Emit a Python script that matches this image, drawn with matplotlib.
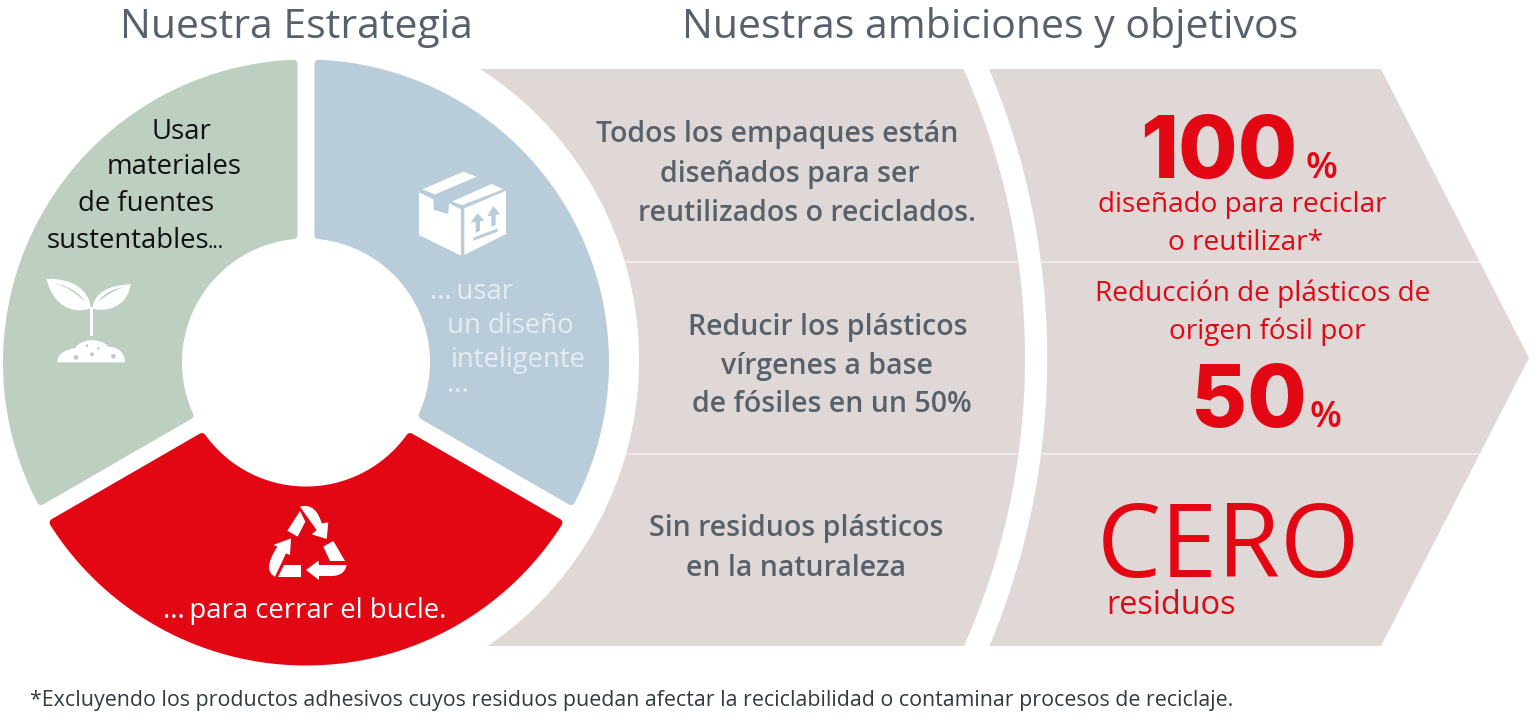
import numpy as np
import matplotlib
matplotlib.use('Agg')
import matplotlib.pyplot as plt
from matplotlib.patches import Polygon, Circle, PathPatch
from matplotlib.path import Path

plt.rcParams['font.family'] = ['Open Sans', 'DejaVu Sans']

RED = '#e30613'
GREY = '#57616b'
SAND = '#dfd8d7'
GREEN = '#bccfc0'
BLUE = '#b9ccda'
PALE = '#e6edf2'

titles = ['Nuestra Estrategia', 'Nuestras ambiciones y objetivos']
title_x = [296, 990]

green_lines = ['Usar', 'materiales', 'de fuentes', 'sustentables', '...']
green_x = [181, 174, 146, 128, 216]
green_y = [139, 174, 211, 248, 248]
green_size = [27.5, 27.5, 27.5, 27.5, 20]

blue_lines = ['...\u2009usar', 'un diseño', 'inteligente', '...']
blue_x = [472, 510, 518, 458]
blue_y = [299, 333, 367, 392]

red_label = '...\u2009para cerrar el bucle.'

goal_lines = ['Todos los empaques están', 'diseñados para ser', 'reutilizados o reciclados.',
              'Reducir los plásticos', 'vírgenes a base', 'de fósiles en un 50%',
              'Sin residuos plásticos', 'en la naturaleza']
goal_x = [777, 790, 807, 828, 827, 832, 796, 796]
goal_y = [142, 182, 221, 335, 374, 412, 536, 576]

target_lines = ['diseñado para reciclar', 'o reutilizar*', 'Reducción de plásticos de', 'origen fósil por']
target_x = [1242, 1245, 1263, 1267]
target_y = [212, 250, 301, 339]

footnote = '*Excluyendo los productos adhesivos cuyos residuos puedan afectar la reciclabilidad o contaminar procesos de reciclaje.'

# donut geometry, all in image pixels
cx, cy = 306, 362.5
r_out, r_in = 303, 124
half_gap = 8.5
pad = 4

fig = plt.figure(figsize=(15.36, 7.21), dpi=100)
ax = fig.add_axes([0, 0, 1, 1])
ax.set_xlim(0, 1536)
ax.set_ylim(721, 0)
ax.axis('off')


def px(size):
    # font size for a height given in pixels
    return size * 0.72


def sector(a0, a1, color):
    d = half_gap + pad
    pts = []
    for r, rev in ((r_out - pad, False), (r_in + pad, True)):
        off = np.degrees(np.arcsin(d / r))
        t = np.radians(np.linspace(a0 + off, a1 - off, 120))
        if rev:
            t = t[::-1]
        pts += list(zip(cx + r * np.cos(t), cy - r * np.sin(t)))
    ax.add_patch(Polygon(pts, closed=True, fc=color, ec=color, lw=2 * pad * 0.72, joinstyle='round'))


def arc_x(yy, acx, acy, r):
    return acx + np.sqrt(r ** 2 - (yy - acy) ** 2)


def draw_text(lines, xs, ys, size, color, weight='normal', family=None):
    sizes = size if isinstance(size, list) else [size] * len(lines)
    for s, x, y, sz in zip(lines, xs, ys, sizes):
        ax.text(x, y, s, fontsize=px(sz), color=color, ha='center', va='baseline', fontweight=weight, family=family)


def curve(origin, verts, codes, color, z=5):
    v = [(origin[0] + a / 3, origin[1] + b / 3) for a, b in verts]
    ax.add_patch(PathPatch(Path(v, codes), fc=color, ec='none', zorder=z))


def poly(origin, verts, color, z=5):
    v = [(origin[0] + a / 3, origin[1] + b / 3) for a, b in verts]
    ax.add_patch(Polygon(v, closed=True, fc=color, ec='none', zorder=z))


M, L, C = Path.MOVETO, Path.LINETO, Path.CURVE4


def sprout():
    o = (30, 265)
    curve(o, [(50, 42), (125, 38), (178, 75), (182, 128), (165, 142), (75, 150), (50, 42)], [M, C, C, C, C, C, C], 'white')
    curve(o, [(302, 58), (235, 60), (190, 85), (188, 130), (205, 140), (290, 140), (302, 58)], [M, C, C, C, C, C, C], 'white')
    curve(o, [(75, 55), (115, 62), (150, 85), (166, 112), (140, 85), (110, 65), (75, 55)], [M, C, C, C, C, C, C], GREEN)
    curve(o, [(285, 65), (250, 72), (220, 85), (203, 112), (225, 92), (255, 75), (285, 65)], [M, C, C, C, C, C, C], GREEN)
    poly(o, [(179, 125), (190, 125), (190, 212), (179, 212)], 'white')
    curve(o, [(82, 292), (82, 265), (110, 252), (135, 250), (150, 222), (210, 215), (235, 245),
              (265, 245), (285, 265), (285, 292), (82, 292)], [M, C, C, C, C, C, C, C, C, C, L], 'white')
    for a, b, r in zip([171, 205, 186, 138, 250], [242, 250, 268, 277, 274], [4, 4, 6, 7, 7]):
        ax.add_patch(Circle((o[0] + a / 3, o[1] + b / 3), r / 3, fc=GREEN, ec='none', zorder=6))


def box():
    o = (405, 160)
    poly(o, [(52, 88), (175, 35), (215, 50), (90, 103)], 'white')
    poly(o, [(42, 97), (85, 118), (87, 150), (130, 162), (132, 130), (168, 148), (168, 287), (42, 225)], 'white')
    poly(o, [(140, 125), (260, 72), (295, 88), (172, 135)], 'white')
    poly(o, [(178, 145), (303, 92), (303, 222), (178, 285)], 'white')
    poly(o, [(197, 187), (218, 160), (238, 182), (225, 184), (225, 213), (212, 218), (212, 187)], BLUE, 6)
    poly(o, [(247, 168), (265, 138), (285, 162), (272, 165), (272, 195), (259, 200), (259, 168)], BLUE, 6)
    poly(o, [(205, 233), (278, 205), (278, 215), (205, 242)], BLUE, 6)


def recycle():
    o = (250, 495)
    poly(o, [(150, 48), (166, 80), (143, 125), (112, 107)], 'white')
    curve(o, [(150, 35), (185, 25), (205, 50), (215, 85), (235, 82), (230, 132), (185, 118), (200, 105), (150, 35)],
          [M, C, C, C, L, L, L, L, L], 'white')
    poly(o, [(220, 155), (250, 138), (285, 198), (240, 198)], 'white')
    curve(o, [(290, 210), (285, 235), (265, 245), (235, 243), (207, 243), (207, 255), (168, 225), (205, 197), (207, 210), (290, 210)],
          [M, C, C, C, L, L, L, L, L, L], 'white')
    poly(o, [(103, 210), (153, 210), (153, 246), (83, 246)], 'white')
    curve(o, [(123, 130), (120, 180), (108, 175), (75, 245), (50, 232), (50, 205), (82, 155), (70, 150), (123, 130)],
          [M, L, L, L, C, C, C, L, L], 'white')


# sand panels behind the targets
yy = np.linspace(69, 646, 200)
left_edge = arc_x(yy, 293, 360, 346)
mid_right = arc_x(yy, 315, 358, 710)
right_left = arc_x(yy, 300.5, 358, 746.7)
panel1 = list(zip(left_edge, yy)) + list(zip(mid_right[::-1], yy[::-1]))
panel2 = list(zip(right_left, yy)) + [(1381, 646), (1529, 358), (1381, 69)]
ax.add_patch(Polygon(panel1, closed=True, fc=SAND, ec='none'))
ax.add_patch(Polygon(panel2, closed=True, fc=SAND, ec='none'))

# thin white separators between the rows
for y in (262, 454):
    ax.plot([arc_x(y, 293, 360, 346), arc_x(y, 315, 358, 710)], [y, y], color='#f4f0ef', lw=1.2)
    ax.plot([arc_x(y, 300.5, 358, 746.7), 1381 + 148 * (1 - abs(y - 358) / 289)], [y, y], color='#f4f0ef', lw=1.2)

sector(90, 210, GREEN)
sector(-30, 90, BLUE)
sector(210, 330, RED)

sprout()
box()
recycle()

draw_text(titles, title_x, [38, 38], 41, GREY)
draw_text(green_lines, green_x, green_y, green_size, '#111111')
draw_text(blue_lines, blue_x, blue_y, 27.5, PALE)
draw_text([red_label], [305], [618], 27.5, 'white')
draw_text(goal_lines, goal_x, goal_y, 28.5, GREY, 'semibold')
draw_text(target_lines, target_x, target_y, 28, RED)

draw_text(['100'], [1219], [178], 86, RED, 800, ['Inter', 'Open Sans'])
draw_text(['%'], [1321], [178], 37, RED, 'semibold')
draw_text(['50'], [1249], [427], 86, RED, 800, ['Inter', 'Open Sans'])
draw_text(['%'], [1325], [427], 37, RED, 'semibold')
draw_text(['CERO'], [1228], [577], 102, RED)
draw_text(['residuos'], [1171], [614], 32.5, RED)

ax.text(30, 706, footnote, fontsize=px(21.4), color='#333a40', ha='left', va='baseline')

fig.savefig('out.png', dpi=100, facecolor='white')
